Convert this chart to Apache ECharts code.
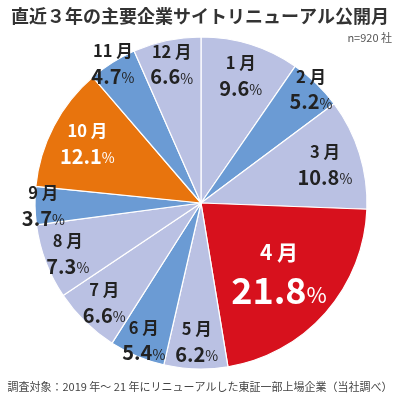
<!DOCTYPE html>
<html>
<head>
<meta charset="utf-8">
<script src="https://cdn.jsdelivr.net/npm/echarts@6/dist/echarts.min.js"></script>
<style>
  html, body { margin: 0; padding: 0; background: #fff; }
  #chart { width: 400px; height: 401px; }
</style>
</head>
<body>
<div id="chart"></div>
<script>
// 月ごとのリニューアル公開割合 (%)
const months = ['1 月', '2 月', '3 月', '4 月', '5 月', '6 月', '7 月', '8 月', '9 月', '10 月', '11 月', '12 月'];
const shares = [9.6, 5.2, 10.8, 21.8, 6.2, 5.4, 6.6, 7.3, 3.7, 12.1, 4.7, 6.6];

// 扇形の色の種類 (0: 薄紫, 1: 青, 2: 赤, 3: オレンジ)
const colorKind = [0, 1, 0, 2, 0, 1, 0, 0, 1, 3, 1, 0];
const palette = ['#bac1e3', '#6b9bd4', '#d7111d', '#e8740d'];

// ラベルを置く半径 (半径に対する割合)
const labelRadius = [0.80, 0.95, 0.78, 0.64, 0.84, 0.90, 0.84, 0.86, 0.95, 0.77, 0.99, 0.85];

const CX = 201, CY = 203, R = 166;
const FONT = 'Noto Sans CJK JP';

const chart = echarts.init(document.getElementById('chart'));

const pieData = months.map((m, i) => {
  const big = i === 3;
  const light = colorKind[i] >= 2;
  const txt = light ? '#ffffff' : '#222222';
  return {
    name: m,
    value: shares[i],
    itemStyle: { color: palette[colorKind[i]] },
    label: {
      formatter: big
        ? '{bm|' + m + '}\n{bv|' + shares[i].toFixed(1) + '}{bp|%}'
        : '{m|' + m + '}\n{v|' + shares[i].toFixed(1) + '}{p|%}',
      rich: {
        m: { fontSize: 16.5, fontWeight: 'bold', color: txt, lineHeight: 25, fontFamily: FONT },
        v: { fontSize: 20, fontWeight: 'bold', color: txt, lineHeight: 26, fontFamily: FONT },
        p: { fontSize: 14, color: txt, lineHeight: 26, fontFamily: FONT, padding: [3, 0, 0, 0] },
        bm: { fontSize: 21, fontWeight: 'bold', color: txt, lineHeight: 36, fontFamily: FONT },
        bv: { fontSize: 36, fontWeight: 'bold', color: txt, lineHeight: 40, fontFamily: FONT },
        bp: { fontSize: 22, color: txt, lineHeight: 40, fontFamily: FONT, padding: [8, 0, 0, 0] }
      }
    }
  };
});

const option = {
  backgroundColor: '#fff',
  animation: false,
  title: [
    {
      text: '直近３年の主要企業サイトリニューアル公開月',
      left: 'center',
      top: 2,
      textStyle: { fontSize: 18, fontWeight: 'bold', color: '#333', fontFamily: FONT }
    },
    {
      text: 'n=920 社',
      right: 3,
      top: 27,
      textStyle: { fontSize: 11, fontWeight: 'normal', color: '#555', fontFamily: FONT }
    },
    {
      text: '調査対象：2019 年～ 21 年にリニューアルした東証一部上場企業（当社調べ）',
      left: 'center',
      bottom: 4,
      textStyle: { fontSize: 11, fontWeight: 'normal', color: '#444', fontFamily: FONT }
    }
  ],
  series: [
    {
      type: 'pie',
      center: [CX, CY],
      radius: [0, R],
      startAngle: 90,
      clockwise: true,
      avoidLabelOverlap: false,
      itemStyle: { borderColor: '#fff', borderWidth: 1.2 },
      label: { show: true, position: 'inside', align: 'center' },
      labelLine: { show: false },
      emphasis: { disabled: true },
      data: pieData,
      labelLayout: function (params) {
        const r = params.labelRect;
        const lx = r.x + r.width / 2;
        const ly = r.y + r.height / 2;
        const d = Math.hypot(lx - CX, ly - CY) || 1;
        const target = labelRadius[params.dataIndex] * R;
        const k = target / d;
        return { dx: (lx - CX) * (k - 1), dy: (ly - CY) * (k - 1) };
      }
    }
  ]
};

chart.setOption(option);
</script>
</body>
</html>
